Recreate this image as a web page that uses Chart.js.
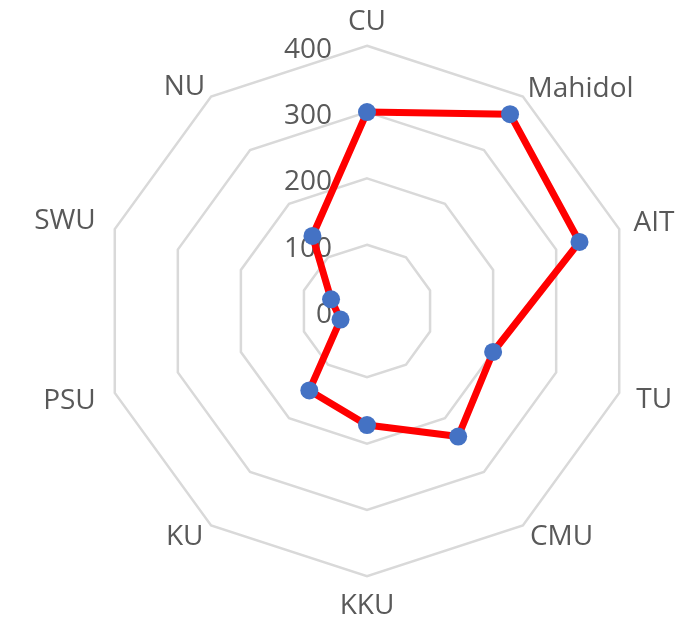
<!DOCTYPE html>
<html>
<head>
<meta charset="utf-8">
<script src="https://cdn.jsdelivr.net/npm/chart.js@4"></script>
<style>
  body { margin: 0; background: #fff; }
  #wrap { width: 692px; height: 621px; position: relative; }
</style>
</head>
<body>
<div id="wrap"><canvas id="radar"></canvas></div>
<script>
  'use strict'

  const labels = ['CU', 'Mahidol', 'AIT', 'TU', 'CMU', 'KKU', 'KU', 'PSU', 'SWU', 'NU'];
  const values = [300, 367, 337, 200, 234, 172, 148, 42, 57, 140];
  const tickMax = 400;
  const tickStep = 100;

  // gap between outer ring and each label
  const labelPad = [22, 8, 15, 18, 12, 28, 13, 20, 20, 10];

  const textGrey = '#595959';

  // tick numbers sit left of the top spoke, under the data
  const tickLabels = {
    id: 'tickLabels',
    beforeDatasetsDraw(chart) {
      const s = chart.scales.r;
      const ctx = chart.ctx;
      ctx.save();
      ctx.font = "28px 'Open Sans'";
      ctx.fillStyle = textGrey;
      ctx.textAlign = 'right';
      ctx.textBaseline = 'middle';
      s.ticks.forEach(t => {
        const y = s.yCenter - s.getDistanceFromCenterForValue(t.value);
        ctx.fillText(String(t.value), s.xCenter - 35, y + 4);
      });
      ctx.restore();
    }
  };

  new Chart(document.getElementById('radar'), {
    type: 'radar',
    data: {
      labels: labels,
      datasets: [{
        data: values,
        borderColor: '#ff0000',
        borderWidth: 7,
        borderJoinStyle: 'round',
        fill: false,
        tension: 0,
        pointRadius: 9,
        pointBackgroundColor: '#4472c4',
        pointBorderWidth: 0,
        pointHoverRadius: 9
      }]
    },
    options: {
      responsive: true,
      maintainAspectRatio: false,
      animation: false,
      layout: {
        padding: { left: 18, right: 0, top: 19, bottom: 11 }
      },
      plugins: {
        legend: { display: false },
        tooltip: { enabled: false }
      },
      scales: {
        r: {
          min: 0,
          max: tickMax,
          ticks: { stepSize: tickStep, display: false },
          angleLines: { display: false },
          grid: { color: '#d9d9d9', lineWidth: 2.5 },
          pointLabels: {
            color: textGrey,
            font: { family: "'Open Sans'", size: 28, lineHeight: 0.1 },
            padding: ctx => labelPad[ctx.index]
          }
        }
      }
    },
    plugins: [tickLabels]
  });
</script>
</body>
</html>
